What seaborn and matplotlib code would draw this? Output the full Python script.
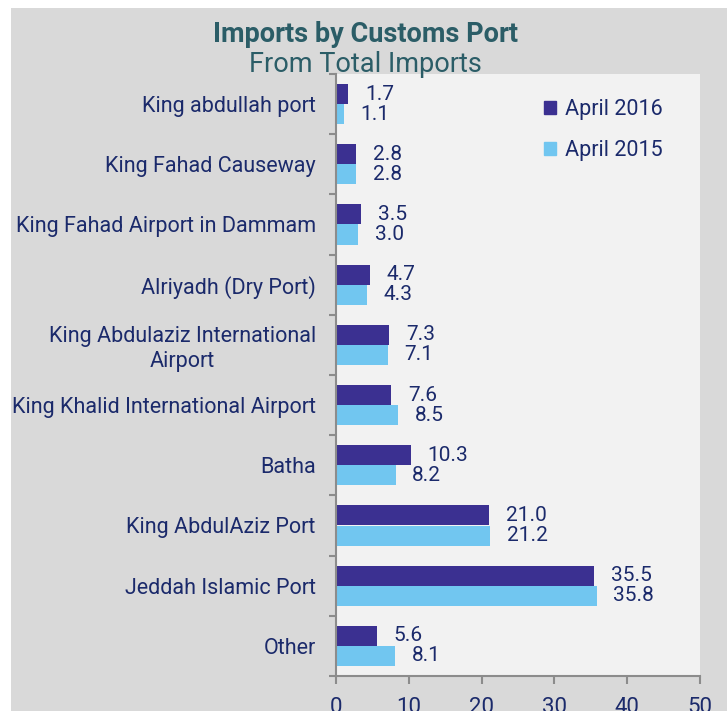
import pandas as pd
import numpy as np
import matplotlib.pyplot as plt
import matplotlib.patches as mpatches
import seaborn as sns

# data (share of total imports, %)
ports = [
    "King abdullah port",
    "King Fahad Causeway",
    "King Fahad Airport in Dammam",
    "Alriyadh (Dry Port)",
    "King Abdulaziz International\nAirport",
    "King Khalid International Airport",
    "Batha",
    "King AbdulAziz Port",
    "Jeddah Islamic Port",
    "Other",
]
april_2016 = [1.7, 2.8, 3.5, 4.7, 7.3, 7.6, 10.3, 21.0, 35.5, 5.6]
april_2015 = [1.1, 2.8, 3.0, 4.3, 7.1, 8.5, 8.2, 21.2, 35.8, 8.1]
series = ["April 2016", "April 2015"]
colors = ["#3b3091", "#71c6f0"]

df = pd.DataFrame({
    "port": ports * 2,
    "value": april_2016 + april_2015,
    "year": [series[0]] * len(ports) + [series[1]] * len(ports),
})

sns.set_style("white")
plt.rcParams["font.family"] = ["Roboto", "DejaVu Sans"]

navy = "#1b2a6b"
teal = "#2b5d67"

fig = plt.figure(figsize=(7.27, 7.11), dpi=100, facecolor="white")
# gray panel behind everything
fig.patches.append(mpatches.Rectangle((11 / 727, 0), 1, 1 - 8 / 711,
                                      transform=fig.transFigure,
                                      facecolor="#d9d9d9", edgecolor="none",
                                      zorder=-10))

ax = fig.add_axes([336 / 727, 1 - 676 / 711, 364 / 727, 602 / 711])
ax.set_facecolor("#f2f2f2")

sns.barplot(data=df, x="value", y="port", hue="year", hue_order=series,
            palette=colors, saturation=1, orient="h", width=0.67, ax=ax,
            edgecolor="none", legend=False)

for cont in ax.containers:
    ax.bar_label(cont, fmt="%.1f", padding=12, fontsize=15, color=navy)

ax.set_xlim(0, 50)
ax.set_xticks(np.arange(0, 51, 10))
ax.set_xlabel("")
ax.set_ylabel("")

ax.set_yticks(np.arange(len(ports)))
ax.set_yticklabels(ports, fontsize=15.5, color=navy, ha="right",
                   multialignment="center")
ax.set_yticks(np.arange(len(ports) + 1) - 0.5, minor=True)
ax.tick_params(axis="y", which="major", left=False, length=0, pad=14.5)
ax.tick_params(axis="y", which="minor", left=True, length=5, width=1.5,
               color="#8c8c8c", direction="out")
ax.tick_params(axis="x", bottom=True, length=6, width=1.5, color="#8c8c8c",
               direction="out", labelsize=16, labelcolor=navy, pad=9)

for s in ["top", "right"]:
    ax.spines[s].set_visible(False)
for s in ["left", "bottom"]:
    ax.spines[s].set_color("#8c8c8c")
    ax.spines[s].set_linewidth(1.5)

handles = [mpatches.Patch(color=c, label=l) for c, l in zip(colors, series)]
ax.legend(handles=handles, loc="upper right", bbox_to_anchor=(0.95, 0.99),
          frameon=False, fontsize=15.5, labelcolor=navy,
          handlelength=0.55, handleheight=0.55, handletextpad=0.4,
          labelspacing=0.9)

fig.text(0.503, 1 - 34 / 711, "Imports by Customs Port", ha="center",
         va="center", fontsize=19.5, fontweight="bold", color=teal)
fig.text(0.503, 1 - 65 / 711, "From Total Imports", ha="center",
         va="center", fontsize=19.5, color=teal)

fig.savefig("out.png", dpi=100, facecolor=fig.get_facecolor())
